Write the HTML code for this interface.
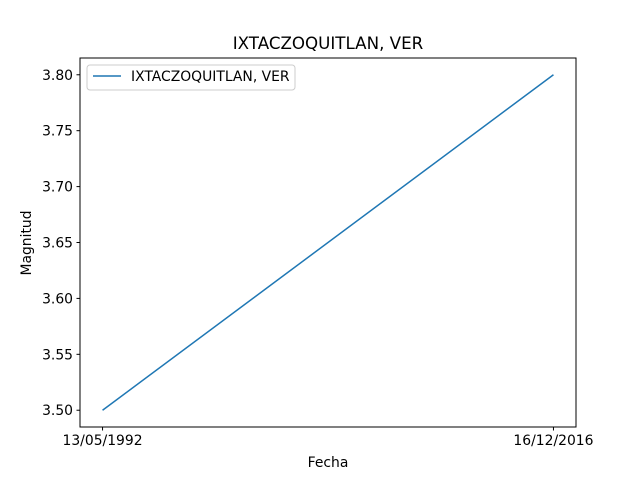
<!DOCTYPE html>
<html><head><meta charset="utf-8"><style>
body{margin:0;background:#fff}
svg text{font-family:"DejaVu Sans","Liberation Sans",sans-serif;fill:#000}
</style></head><body>
<svg id="chart" width="640" height="480" viewBox="0 0 640 480">
<rect width="640" height="480" fill="#fff"/>
<text x="328" y="49" font-size="16.7" text-anchor="middle">IXTACZOQUITLAN, VER</text>
<g id="plot"></g>
<rect x="80" y="58" width="496" height="369" fill="none" stroke="#000" stroke-width="1"/>
<text x="328" y="467" font-size="13.9" text-anchor="middle">Fecha</text>
<text x="31" y="243" font-size="13.9" text-anchor="middle" transform="rotate(-90 31 243)">Magnitud</text>
<g>
<rect x="87" y="65" width="208" height="25" rx="3" fill="#fff" stroke="#ccc"/>
<line x1="93" y1="76" x2="121" y2="76" stroke="#1f77b4" stroke-width="1.5"/>
<text x="131" y="81" font-size="13.9">IXTACZOQUITLAN, VER</text>
</g>
</svg>
<script>
const categories=["13/05/1992","16/12/2016"];
const values=[3.5,3.8];
const yTicks=[3.50,3.55,3.60,3.65,3.70,3.75,3.80];
const L=80,R=576,T=58,B=427;
const ymin=3.485,ymax=3.815;
function xs(i){return L+(i+0.05)/1.1*(R-L);}
function ys(v){return B-(v-ymin)/(ymax-ymin)*(B-T);}
const g=document.getElementById('plot');
const NS="http://www.w3.org/2000/svg";
function mk(t,a){const e=document.createElementNS(NS,t);for(const k in a)e.setAttribute(k,a[k]);g.appendChild(e);return e;}
yTicks.forEach(v=>{
const y=ys(v);
const t=mk('line',{x1:L-3.5,x2:L,y1:y,y2:y,stroke:'#000'});


const tx=mk('text',{x:L-7,y:y+5,'font-size':13.9,'text-anchor':'end'});
tx.textContent=v.toFixed(2);


});
categories.forEach((c,i)=>{
const x=xs(i);
const t=mk('line',{x1:x,x2:x,y1:B,y2:B+3.5,stroke:'#000'});


const tx=mk('text',{x:x,y:B+18,'font-size':13.9,'text-anchor':'middle'});
tx.textContent=c;


});
const pts=values.map((v,i)=>xs(i)+','+ys(v)).join(' ');
const line=mk('polyline',{points:pts,fill:'none',stroke:'#1f77b4','stroke-width':1.5});


</script>
</body></html>
